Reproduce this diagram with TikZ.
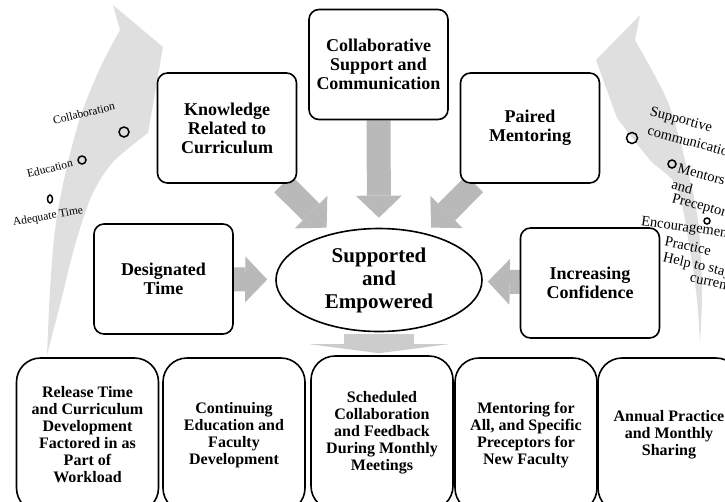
\documentclass[tikz,border=0pt]{standalone}
\usepackage{fontspec}
\setmainfont{Liberation Serif}
\usetikzlibrary{arrows.meta,shapes.geometric,backgrounds}

\tikzset{
    topbox/.style={draw, line width=1.6pt, rounded corners=10pt, fill=white,
        minimum width=139pt, minimum height=110pt, align=center,
        font=\fontsize{18}{19}\selectfont\bfseries},
    lowbox/.style={draw, line width=1.6pt, rounded corners=24pt, fill=white,
        minimum width=142pt, minimum height=154pt, align=center,
        font=\fontsize{16}{17}\selectfont\bfseries},
    hubshape/.style={draw, ellipse, line width=1.6pt, fill=white, inner sep=0pt,
        minimum width=206pt, minimum height=103pt, align=center,
        font=\fontsize{21}{23}\selectfont\bfseries},
    blockarrow/.style={draw=gray!55, line width=24pt,
        -{Triangle[length=22pt,width=46pt,line width=0pt]}},
    sweep/.style={fill=gray!25},
    leftnote/.style={font=\fontsize{11.5}{12}\selectfont, anchor=west, inner sep=0pt},
    rightnote/.style={font=\fontsize{14.5}{15}\selectfont, anchor=west, inner sep=0pt, rotate=-15},
    ringmark/.style={line width=1.5pt},
}

\begin{document}
\begin{tikzpicture}[x=1pt, y=-1pt]
    \useasboundingbox (0,0) rectangle (725,501);
    \clip (0,0) rectangle (725,501);

    % the two sweeping arrows at the sides
    \fill[sweep] plot[smooth] coordinates {(47,355) (50,290) (55,230) (65,175) (80,118) (100,68) (120,30)}
        -- (113,5) -- (163,47) -- (148,133)
        -- plot[smooth] coordinates {(148,133) (113,162) (92,195) (75,245) (60,305) (47,355)} -- cycle;
    \fill[sweep] plot[smooth] coordinates {(700,343) (702,290) (698,220) (685,160) (667,100) (635,40)}
        -- (640,15) -- (596,60) -- (617,118)
        -- plot[smooth] coordinates {(617,118) (650,160) (677,187) (690,250) (697,300) (700,343)} -- cycle;

    % notes along the left arrow
    \node[leftnote, rotate=14] (notecollab) at (53,121) {Collaboration};
    \node[leftnote, rotate=14] (noteedu) at (27,174) {Education};
    \node[leftnote, rotate=10] (notetime) at (13,223) {Adequate Time};
    \draw[ringmark] (124,132) circle (5pt);
    \draw[ringmark] (82,160) circle (4pt);
    \draw[ringmark] (50,199) ellipse (2.5pt and 4pt);

    % notes along the right arrow
    \node[rightnote] (notesup) at (650,112) {Supportive};
    \node[rightnote] (notecomm) at (648,130) {communication};
    \node[rightnote] (notementor) at (678,168) {Mentors};
    \node[rightnote] (noteand) at (672,184) {and};
    \node[rightnote] (noteprec) at (672,199) {Preceptors};
    \node[rightnote, rotate=7] (noteenc) at (641,222) {Encouragement};
    \node[rightnote, rotate=3] (noteprac) at (665,241) {Practice};
    \node[rightnote, rotate=2] (notehelp) at (663,258) {Help to stay};
    \node[rightnote, rotate=3] (notecurr) at (690,278) {current};
    \draw[ringmark] (632,138) circle (5.5pt);
    \draw[ringmark] (672,164) circle (4pt);
    \draw[ringmark] (707,221) circle (3pt);

    % boxes round the centre
    \node[topbox] (know)   at (227,128)    {Knowledge\\Related to\\Curriculum};
    \node[topbox] (collab) at (378.5,64.5) {Collaborative\\Support and\\Communication};
    \node[topbox] (paired) at (530,128)    {Paired\\Mentoring};
    \node[topbox] (desig)  at (163.5,279)  {Designated\\Time};
    \node[topbox] (incr)   at (590,283)    {Increasing\\Confidence};
    \node[hubshape] (hub)  at (379,280)    {Supported\\and\\Empowered};

    % bottom row
    \node[lowbox] (low1) at (87.5,435) {Release Time\\and Curriculum\\Development\\Factored in as\\Part of\\Workload};
    \node[lowbox] (low2) at (234,435)  {Continuing\\Education and\\Faculty\\Development};
    \node[lowbox] (low3) at (382,433)  {Scheduled\\Collaboration\\and Feedback\\During Monthly\\Meetings};
    \node[lowbox] (low4) at (526,435)  {Mentoring for\\All, and Specific\\Preceptors for\\New Faculty};
    \node[lowbox] (low5) at (669,435)  {Annual Practice\\and Monthly\\Sharing};

    \begin{scope}[on background layer]
        \draw[blockarrow, shorten >=8pt]  (know) -- (hub);
        \draw[blockarrow, shorten >=10pt] (collab) -- (hub);
        \draw[blockarrow, shorten >=8pt]  (paired) -- (hub);
        \draw[blockarrow, shorten >=8pt]  (desig) -- (hub);
        \draw[blockarrow, shorten >=5pt]  (incr) -- (hub);
        \draw[draw=gray!40, line width=70pt, -{Triangle[length=9pt,width=139pt,line width=0pt]},
            shorten <=1.5pt, shorten >=2pt] (hub.south) -- (hub.south |- low3.north);
    \end{scope}
\end{tikzpicture}
\end{document}
